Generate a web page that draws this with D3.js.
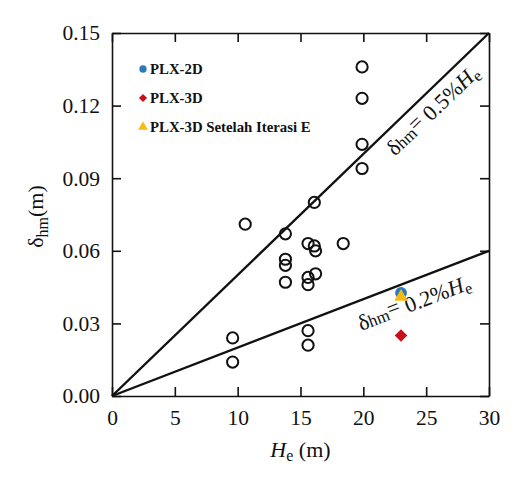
<!DOCTYPE html>
<html>
<head>
<meta charset="utf-8">
<script src="https://cdn.jsdelivr.net/npm/d3@7"></script>
<style>
  body { margin: 0; background: #fff; }
  text { font-family: "Liberation Serif", "DejaVu Serif", serif; }
</style>
</head>
<body>
<div id="chart"></div>
<script>
// --- data ---
const xTicks = [0, 5, 10, 15, 20, 25, 30];
const yTicks = [0, 0.03, 0.06, 0.09, 0.12, 0.15];

// open circles (field data)
const obsHe = [19.9, 19.9, 19.9, 19.9, 16.1, 10.6, 13.8, 15.6, 16.1, 16.2, 18.4,
               13.8, 13.8, 13.8, 15.6, 16.2, 15.6, 15.6, 15.6, 9.6, 9.6];
const obsDelta = [0.136, 0.123, 0.104, 0.094, 0.080, 0.071, 0.067, 0.063, 0.062, 0.060, 0.063,
                  0.0565, 0.054, 0.047, 0.049, 0.0505, 0.046, 0.027, 0.021, 0.024, 0.014];

// model results
const modelNames = ["PLX-2D", "PLX-3D", "PLX-3D Setelah Iterasi E"];
const modelHe = [23.0, 23.0, 23.0];
const modelDelta = [0.0426, 0.025, 0.041];
const modelColors = ["#2b7bba", "#c8101a", "#f6bb12"];
const modelShapes = [d3.symbolCircle, d3.symbolSquare, d3.symbolTriangle];
const modelRotate = [0, 45, 0];

// reference lines delta = k * He
const lineRatios = [0.005, 0.002];
const lineLabels = ["0.5%", "0.2%"];
const lineLabelStart = [21.2, 19.0];

// --- layout ---
const W = 531, H = 480;
const margin = { top: 33, right: 42, bottom: 84, left: 112 };
const width = W - margin.left - margin.right;
const height = H - margin.top - margin.bottom;

const svg = d3.select("#chart").append("svg")
  .attr("width", W).attr("height", H);
const g = svg.append("g")
  .attr("transform", `translate(${margin.left},${margin.top})`);

const x = d3.scaleLinear().domain([0, 30]).range([0, width]);
const y = d3.scaleLinear().domain([0, 0.15]).range([height, 0]);

// axes, ticks point inward on all four sides
const tickLen = 9;
const axB = g.append("g").attr("transform", `translate(0,${height})`)
  .call(d3.axisBottom(x).tickValues(xTicks).tickSizeInner(-tickLen).tickSizeOuter(0).tickPadding(14));
const axL = g.append("g")
  .call(d3.axisLeft(y).tickValues(yTicks).tickFormat(d3.format(".2f")).tickSizeInner(-tickLen).tickSizeOuter(0).tickPadding(12));
const axT = g.append("g")
  .call(d3.axisTop(x).tickValues(xTicks).tickSizeInner(-tickLen).tickSizeOuter(0).tickFormat(""));
const axR = g.append("g").attr("transform", `translate(${width},0)`)
  .call(d3.axisRight(y).tickValues(yTicks).tickSizeInner(-tickLen).tickSizeOuter(0).tickFormat(""));

[axB, axL, axT, axR].forEach(a => {
  a.attr("font-family", "Liberation Serif").attr("font-size", 21.5);
  a.select(".domain").attr("stroke", "#111").attr("stroke-width", 1.6);
  a.selectAll(".tick line").attr("stroke", "#111").attr("stroke-width", 1.6);
  a.selectAll(".tick text").attr("fill", "#111");
});

// reference lines
lineRatios.forEach((k, i) => {
  g.append("line")
    .attr("x1", x(0)).attr("y1", y(0))
    .attr("x2", x(30)).attr("y2", y(30 * k))
    .attr("stroke", "#111").attr("stroke-width", 2.4);

  const h0 = lineLabelStart[i];
  const ang = Math.atan2(y(30 * k) - y(0), x(30) - x(0)) * 180 / Math.PI;
  const t = g.append("text")
    .attr("transform", `translate(${x(h0)},${y(h0 * k)}) rotate(${ang})`)
    .attr("dy", i === 0 ? 24 : 29)
    .style("font-size", "22px").attr("fill", "#111");
  t.append("tspan").text("δ");
  t.append("tspan").style("font-size", "17px").text("hm");
  t.append("tspan").attr("dy", -3).text("=");
  t.append("tspan").attr("dy", 3).text(" " + lineLabels[i]);
  t.append("tspan").style("font-style", "italic").text("H");
  t.append("tspan").attr("dy", 4).style("font-size", "16px").text("e");
});

// open circles
g.selectAll(".obs")
  .data(obsHe.map((h, i) => ({ h: h, d: obsDelta[i] })))
  .enter().append("circle")
  .attr("class", "obs")
  .attr("cx", d => x(d.h)).attr("cy", d => y(d.d))
  .attr("r", 5.6)
  .attr("fill", "none").attr("stroke", "#111").attr("stroke-width", 2);

// model points (circle, diamond, then triangle on top)
const drawOrder = [0, 1, 2];
g.selectAll(".model")
  .data(drawOrder)
  .enter().append("path")
  .attr("class", "model")
  .attr("transform", i => `translate(${x(modelHe[i])},${y(modelDelta[i])}) rotate(${modelRotate[i]})`)
  .attr("d", i => d3.symbol().type(modelShapes[i]).size(i === 0 ? 110 : 80)())
  .attr("fill", i => modelColors[i]);

// legend
const legend = g.selectAll(".legend")
  .data(modelNames)
  .enter().append("g")
  .attr("class", "legend")
  .attr("transform", (d, i) => `translate(31,${36 + i * 29})`);

legend.append("path")
  .attr("transform", (d, i) => `rotate(${modelRotate[i]})`)
  .attr("d", (d, i) => d3.symbol().type(modelShapes[i]).size(i === 1 ? 34 : 42)())
  .attr("fill", (d, i) => modelColors[i]);

legend.append("text")
  .attr("x", 7).attr("y", 5)
  .style("font-size", "14.8px").style("font-weight", "bold")
  .attr("fill", "#111")
  .text(d => d);

// axis titles
const xl = svg.append("text")
  .attr("x", margin.left + width / 2).attr("y", 457)
  .attr("text-anchor", "middle")
  .style("font-size", "22px").attr("fill", "#111");
xl.append("tspan").style("font-style", "italic").text("H");
xl.append("tspan").attr("dy", 4).style("font-size", "16px").text("e");
xl.append("tspan").attr("dy", -4).text(" (m)");

const yl = svg.append("text")
  .attr("transform", `translate(43,${margin.top + height / 2 + 2}) rotate(-90)`)
  .attr("text-anchor", "middle")
  .style("font-size", "22px").attr("fill", "#111");
yl.append("tspan").text("δ");
yl.append("tspan").attr("dy", 5).style("font-size", "16px").text("hm");
yl.append("tspan").attr("dy", -5).text("(m)");
</script>
</body>
</html>
